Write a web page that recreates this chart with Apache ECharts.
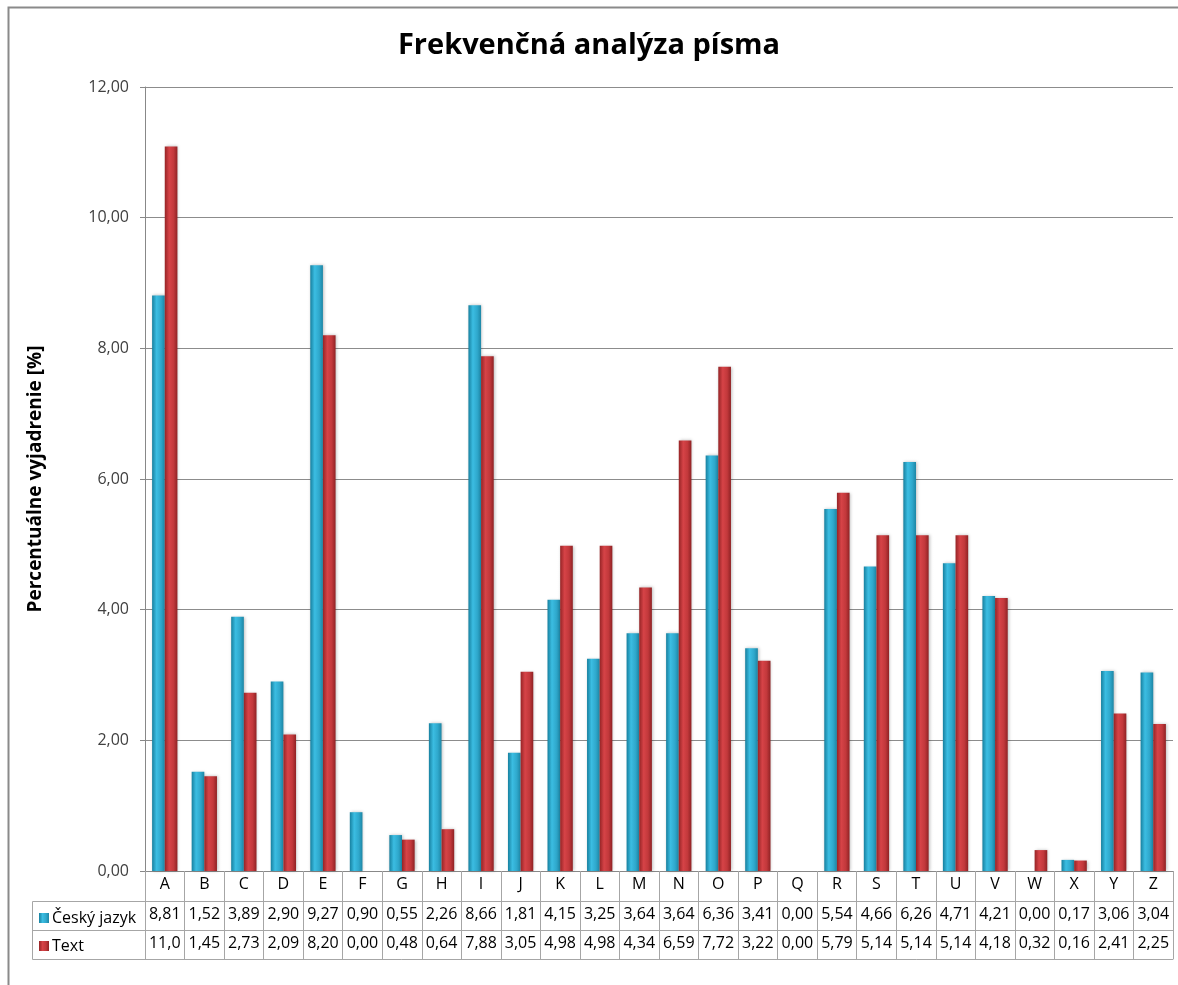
<!DOCTYPE html>
<html>
<head>
<meta charset="utf-8">
<script src="https://cdn.jsdelivr.net/npm/echarts@6/dist/echarts.min.js"></script>
<style>
html,body{margin:0;padding:0;background:#fff;}
#c{width:1178px;height:985px;}
</style>
</head>
<body>
<div id="c"></div>
<script>
const categories = ['A','B','C','D','E','F','G','H','I','J','K','L','M','N','O','P','Q','R','S','T','U','V','W','X','Y','Z'];
const czechValues = [8.81,1.52,3.89,2.90,9.27,0.90,0.55,2.26,8.66,1.81,4.15,3.25,3.64,3.64,6.36,3.41,0.00,5.54,4.66,6.26,4.71,4.21,0.00,0.17,3.06,3.04];
const textValues = [11.09,1.45,2.73,2.09,8.20,0.00,0.48,0.64,7.88,3.05,4.98,4.98,4.34,6.59,7.72,3.22,0.00,5.79,5.14,5.14,5.14,4.18,0.32,0.16,2.41,2.25];
const seriesNames = ['Český jazyk','Text'];
const titleText = 'Frekvenčná analýza písma';
const yAxisTitle = 'Percentuálne vyjadrenie [%]';

const FONT = 'Open Sans';
const lineColor = '#a6a6a6';
function fmt(v){ return v.toFixed(2).replace('.', ',').slice(0,4); }

const blueGrad = new echarts.graphic.LinearGradient(0,0,1,0,[
  {offset:0,color:'#17809f'},{offset:0.35,color:'#3bbde2'},{offset:0.7,color:'#2fa8cc'},{offset:1,color:'#1d86a5'}]);
const redGrad = new echarts.graphic.LinearGradient(0,0,1,0,[
  {offset:0,color:'#962426'},{offset:0.35,color:'#d64347'},{offset:0.7,color:'#c2383b'},{offset:1,color:'#8f2224'}]);

const chart = echarts.init(document.getElementById('c'));
const tableAxis = (offset, vals, showLabel) => ({
  type:'category', data:categories, position:'bottom', offset:offset, gridIndex:0,
  axisLine:{show:true, lineStyle:{color:lineColor, width:1}},
  axisTick:{show:showLabel, length:29, interval:0, lineStyle:{color:lineColor}},
  axisLabel:{show:showLabel, interval:0, margin:5, fontFamily:FONT, fontSize:16, color:'#000',
    formatter:(v, i)=> vals ? fmt(vals[i]) : v},
  splitLine:{show:false}
});

chart.setOption({
  backgroundColor:'#fff',
  animation:false,
  title:{text:titleText, left:'center', top:26, textStyle:{fontFamily:FONT, fontSize:29, fontWeight:'bold', color:'#000'}},
  legend:{orient:'vertical', left:34, top:903, itemWidth:10, itemHeight:10, itemGap:8,
    icon:'rect', textStyle:{fontFamily:FONT, fontSize:16, lineHeight:20, color:'#000', padding:[0,0,0,-2]}, data:seriesNames},
  grid:{left:145, right:5, top:87, bottom:114, containLabel:false},
  xAxis:[
    Object.assign(tableAxis(0, null, true), {axisTick:{show:true, length:30, interval:0, lineStyle:{color:lineColor}}, axisLine:{show:true, lineStyle:{color:'#888', width:1}}}),
    tableAxis(30, czechValues, true),
    tableAxis(59, textValues, true),
    tableAxis(88, null, false)
  ],
  yAxis:{type:'value', min:0, max:12, interval:2,
    name:yAxisTitle, nameLocation:'middle', nameGap:100, nameRotate:90,
    nameTextStyle:{fontFamily:FONT, fontSize:19, fontWeight:'bold', color:'#000'},
    axisLine:{show:true, lineStyle:{color:'#888'}},
    axisTick:{show:true, length:5, lineStyle:{color:'#888'}},
    axisLabel:{fontFamily:FONT, fontSize:16, color:'#404040', margin:16, formatter:v=>v.toFixed(2).replace('.',',')},
    splitLine:{show:true, lineStyle:{color:'#8c8c8c', width:1}}
  },
  series:[
    {name:seriesNames[0], type:'bar', data:czechValues, barGap:'0%', barCategoryGap:'36%',
      itemStyle:{color:blueGrad, shadowColor:'rgba(0,0,0,0.25)', shadowBlur:3, shadowOffsetX:1}},
    {name:seriesNames[1], type:'bar', data:textValues, barGap:'0%', barCategoryGap:'36%',
      itemStyle:{color:redGrad, shadowColor:'rgba(0,0,0,0.25)', shadowBlur:3, shadowOffsetX:1}}
  ],
  graphic:[
    {type:'rect', shape:{x:8.5, y:7.5, width:1300, height:1300}, style:{fill:null, stroke:'#8a8a8a', lineWidth:2}, silent:true, z:-1},
    {type:'line', shape:{x1:32.5, y1:901.5, x2:145, y2:901.5}, style:{stroke:lineColor, lineWidth:1}},
    {type:'line', shape:{x1:32.5, y1:930.5, x2:145, y2:930.5}, style:{stroke:lineColor, lineWidth:1}},
    {type:'line', shape:{x1:32.5, y1:959.5, x2:145, y2:959.5}, style:{stroke:lineColor, lineWidth:1}},
    {type:'line', shape:{x1:32.5, y1:901.5, x2:32.5, y2:959.5}, style:{stroke:lineColor, lineWidth:1}},
    {type:'line', shape:{x1:145.5, y1:901.5, x2:145.5, y2:959.5}, style:{stroke:lineColor, lineWidth:1}}
  ]
});
</script>
</body>
</html>
